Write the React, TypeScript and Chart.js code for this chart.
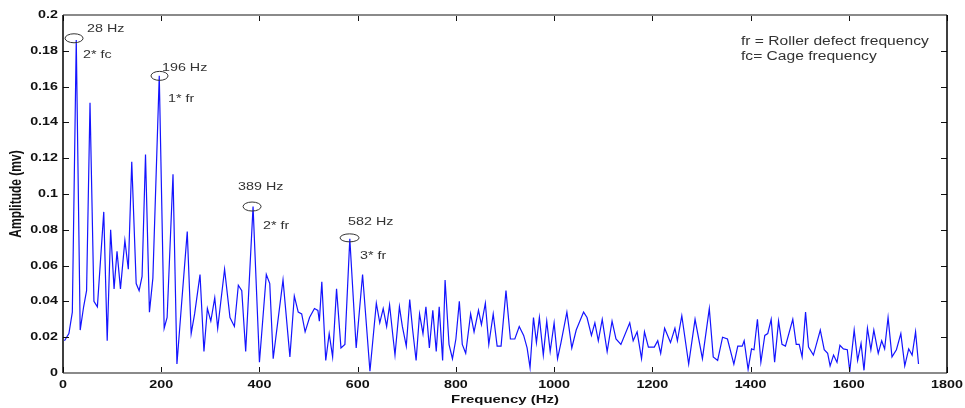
import React, { useEffect, useRef } from 'react';
import { Chart, registerables } from 'chart.js';

Chart.register(...registerables);

// ---- data ----
const FREQ_HZ = [
  3, 12, 19, 27, 35, 42, 48, 55, 63, 70,
  83, 90, 97, 104, 110, 117, 126, 133, 140, 149,
  155, 161, 168, 176, 183, 196, 206, 212, 224, 232,
  241, 253, 261, 268, 279, 287, 294, 301, 309, 315,
  329, 340, 349, 357, 364, 372, 387, 400, 414, 421,
  428, 448, 462, 471, 479, 486, 493, 502, 512, 519,
  522, 527, 535, 542, 549, 557, 566, 574, 584, 597,
  610, 625, 638, 645, 652, 659, 665, 672, 676, 685,
  691, 699, 706, 712, 719, 726, 733, 739, 746, 753,
  760, 766, 773, 778, 786, 793, 800, 807, 813, 820,
  830, 837, 846, 852, 860, 867, 876, 884, 892, 902,
  911, 920, 929, 938, 945, 951, 958, 964, 970, 978,
  985, 992, 1000, 1007, 1014, 1026, 1036, 1045, 1060, 1067,
  1076, 1083, 1090, 1098, 1108, 1118, 1126, 1136, 1154, 1161,
  1169, 1178, 1184, 1192, 1204, 1211, 1217, 1225, 1237, 1246,
  1251, 1260, 1274, 1287, 1302, 1316, 1324, 1333, 1343, 1353,
  1366, 1374, 1383, 1387, 1395, 1402, 1407, 1414, 1421, 1429,
  1435, 1442, 1449, 1457, 1464, 1471, 1486, 1493, 1499, 1505,
  1512, 1518, 1528, 1542, 1550, 1557, 1562, 1569, 1576, 1582,
  1589, 1597, 1602, 1611, 1618, 1625, 1631, 1638, 1645, 1651,
  1660, 1667, 1673, 1680, 1688, 1697, 1706, 1714, 1722, 1729,
  1736, 1742,
];

const AMPLITUDE = [
  0.018, 0.022, 0.034, 0.186, 0.024, 0.037, 0.046, 0.151, 0.040, 0.037,
  0.090, 0.018, 0.080, 0.047, 0.068, 0.047, 0.074, 0.058, 0.118, 0.050,
  0.046, 0.054, 0.122, 0.034, 0.053, 0.166, 0.025, 0.031, 0.111, 0.005,
  0.037, 0.079, 0.022, 0.033, 0.055, 0.012, 0.036, 0.029, 0.042, 0.025,
  0.058, 0.031, 0.026, 0.049, 0.046, 0.012, 0.093, 0.006, 0.055, 0.050,
  0.008, 0.052, 0.009, 0.043, 0.034, 0.033, 0.023, 0.031, 0.036, 0.035,
  0.029, 0.051, 0.007, 0.022, 0.009, 0.047, 0.014, 0.016, 0.075, 0.014,
  0.055, 0.001, 0.039, 0.028, 0.036, 0.026, 0.038, 0.020, 0.010, 0.037,
  0.026, 0.015, 0.041, 0.024, 0.007, 0.033, 0.022, 0.037, 0.014, 0.035,
  0.012, 0.037, 0.007, 0.052, 0.016, 0.008, 0.019, 0.040, 0.016, 0.011,
  0.033, 0.023, 0.035, 0.027, 0.039, 0.016, 0.033, 0.015, 0.015, 0.046,
  0.019, 0.019, 0.026, 0.021, 0.014, 0.003, 0.031, 0.017, 0.031, 0.010,
  0.029, 0.012, 0.028, 0.008, 0.017, 0.034, 0.014, 0.024, 0.034, 0.031,
  0.021, 0.028, 0.018, 0.030, 0.012, 0.029, 0.019, 0.016, 0.028, 0.018,
  0.023, 0.008, 0.023, 0.0145, 0.0145, 0.018, 0.011, 0.025, 0.017, 0.025,
  0.018, 0.032, 0.005, 0.030, 0.008, 0.036, 0.009, 0.007, 0.020, 0.019,
  0.005, 0.015, 0.015, 0.018, 0.002, 0.0135, 0.013, 0.030, 0.006, 0.021,
  0.022, 0.030, 0.006, 0.029, 0.016, 0.015, 0.030, 0.016, 0.016, 0.009,
  0.034, 0.0145, 0.010, 0.024, 0.013, 0.011, 0.004, 0.010, 0.006, 0.0155,
  0.0135, 0.013, 0.001, 0.024, 0.007, 0.0165, 0.0015, 0.025, 0.013, 0.024,
  0.011, 0.018, 0.0135, 0.031, 0.009, 0.013, 0.022, 0.004, 0.0135, 0.010,
  0.023, 0.005,
];

const X_TICKS = [0, 200, 400, 600, 800, 1000, 1200, 1400, 1600, 1800];
const X_TICK_LABELS = ['0', '200', '400', '600', '800', '1000', '1200', '1400', '1600', '1800'];
const Y_TICKS = [0, 0.02, 0.04, 0.06, 0.08, 0.1, 0.12, 0.14, 0.16, 0.18, 0.2];
const Y_TICK_LABELS = ['0', '0.02', '0.04', '0.06', '0.08', '0.1', '0.12', '0.14', '0.16', '0.18', '0.2'];

const X_TITLE = 'Frequency (Hz)';
const Y_TITLE = 'Amplitude (mv)';
const LEGEND_LINES = ['fr = Roller defect frequency', 'fc= Cage frequency'];

// peak markers (ellipse centres in data units) and their texts
const MARKER_HZ = [22.5, 196.5, 385, 583.5];
const MARKER_AMP = [0.187, 0.166, 0.093, 0.0755];
const MARKER_LABELS = ['28 Hz', '196 Hz', '389 Hz', '582 Hz'];
const MARKER_NOTES = ['2* fc', '1* fr', '2* fr', '3* fr'];

// ---- styles ----
const FONT = "'Liberation Sans', Arial, Helvetica, sans-serif";
const SX = 1.3; // horizontal stretch of the reference's text
const LABEL_OFFSETS = [[13, -9.5], [2.5, -8], [-14, -19.5], [-1.5, -15.5]];
const NOTE_OFFSETS = [[9, 16.5], [8.5, 23], [11, 19.5], [10.5, 18]];
const ELLIPSE_R = [[9, 4.5], [8.5, 4.5], [9, 4.5], [9.5, 4]];

function drawText(
  ctx: CanvasRenderingContext2D,
  text: string,
  x: number,
  y: number,
  font: string,
  color: string,
  align: CanvasTextAlign,
  rotate = false,
) {
  ctx.save();
  ctx.font = font;
  ctx.fillStyle = color;
  ctx.textAlign = align;
  ctx.textBaseline = 'middle';
  ctx.translate(x, y);
  ctx.scale(SX, 1);
  if (rotate) ctx.rotate(-Math.PI / 2);
  ctx.fillText(text, 0, 0);
  ctx.restore();
}

const framePlugin = {
  id: 'matlabFrame',
  beforeDraw(chart: any) {
    const { ctx, width, height } = chart;
    ctx.save();
    ctx.fillStyle = '#ffffff';
    ctx.fillRect(0, 0, width, height);
    ctx.restore();
  },
  afterDraw(chart: any) {
    const { ctx, chartArea } = chart;
    const { left, right, top, bottom } = chartArea;
    const xs = chart.scales.x;
    const ys = chart.scales.y;
    const TL = 6;

    ctx.save();
    // inward tick marks
    ctx.strokeStyle = '#111';
    ctx.lineWidth = 1;
    ctx.beginPath();
    X_TICKS.forEach((v) => {
      const px = Math.round(xs.getPixelForValue(v)) + 0.5;
      ctx.moveTo(px, bottom);
      ctx.lineTo(px, bottom - TL);
      ctx.moveTo(px, top);
      ctx.lineTo(px, top + TL);
    });
    Y_TICKS.forEach((v) => {
      const py = Math.round(ys.getPixelForValue(v)) + 0.5;
      ctx.moveTo(left, py);
      ctx.lineTo(left + TL, py);
      ctx.moveTo(right, py);
      ctx.lineTo(right - TL, py);
    });
    ctx.stroke();

    // box: top / bottom grey, left / right black
    ctx.strokeStyle = '#8a8a8a';
    ctx.lineWidth = 2;
    ctx.beginPath();
    ctx.moveTo(left, top);
    ctx.lineTo(right, top);
    ctx.moveTo(left, bottom);
    ctx.lineTo(right, bottom);
    ctx.stroke();
    ctx.strokeStyle = '#000';
    ctx.lineWidth = 1.5;
    ctx.beginPath();
    ctx.moveTo(left, top);
    ctx.lineTo(left, bottom);
    ctx.moveTo(right, top);
    ctx.lineTo(right, bottom);
    ctx.stroke();
    ctx.restore();

    const tickFont = `bold 11px ${FONT}`;
    X_TICKS.forEach((v, i) => {
      drawText(ctx, X_TICK_LABELS[i], xs.getPixelForValue(v), bottom + 12, tickFont, '#111', 'center');
    });
    Y_TICKS.forEach((v, i) => {
      drawText(ctx, Y_TICK_LABELS[i], left - 5, ys.getPixelForValue(v), tickFont, '#111', 'right');
    });

    // axis titles
    drawText(ctx, X_TITLE, (left + right) / 2, bottom + 27, `bold 11.5px ${FONT}`, '#111', 'center');
    drawText(ctx, Y_TITLE, 17, (top + bottom) / 2, `bold 12px ${FONT}`, '#111', 'center', true);

    // peak markers
    const annFont = `11px ${FONT}`;
    MARKER_HZ.forEach((hz, i) => {
      const cx = xs.getPixelForValue(hz);
      const cy = ys.getPixelForValue(MARKER_AMP[i]);
      ctx.save();
      ctx.strokeStyle = '#333';
      ctx.lineWidth = 1;
      ctx.beginPath();
      ctx.ellipse(cx, cy, ELLIPSE_R[i][0], ELLIPSE_R[i][1], 0, 0, Math.PI * 2);
      ctx.stroke();
      ctx.restore();
      drawText(ctx, MARKER_LABELS[i], cx + LABEL_OFFSETS[i][0], cy + LABEL_OFFSETS[i][1], annFont, '#333', 'left');
      drawText(ctx, MARKER_NOTES[i], cx + NOTE_OFFSETS[i][0], cy + NOTE_OFFSETS[i][1], annFont, '#333', 'left');
    });

    // text legend, top right
    const legFont = `12px ${FONT}`;
    LEGEND_LINES.forEach((line, i) => {
      drawText(ctx, line, right - 206, top + 27 + i * 15, legFont, '#333', 'left');
    });
  },
};

export default function App() {
  const canvasRef = useRef<HTMLCanvasElement | null>(null);

  useEffect(() => {
    const canvas = canvasRef.current;
    if (!canvas) return;
    const points = FREQ_HZ.map((f, i) => ({ x: f, y: AMPLITUDE[i] }));
    const chart = new Chart(canvas, {
      type: 'line',
      data: {
        datasets: [
          {
            data: points,
            borderColor: '#1414ff',
            borderWidth: 1.2,
            pointRadius: 0,
            tension: 0,
            fill: false,
          },
        ],
      },
      options: {
        responsive: false,
        animation: false,
        devicePixelRatio: 1,
        events: [],
        layout: { padding: { left: 63, top: 15, right: 18, bottom: 35 } },
        plugins: { legend: { display: false }, tooltip: { enabled: false } },
        scales: {
          x: { type: 'linear', min: 0, max: 1800, display: false },
          y: { type: 'linear', min: 0, max: 0.2, display: false },
        },
      },
      plugins: [framePlugin],
    } as any);
    return () => chart.destroy();
  }, []);

  return (
    <div style={{ position: 'absolute', left: 0, top: 0, width: 965, height: 408, background: '#fff' }}>
      <canvas ref={canvasRef} width={965} height={408} style={{ display: 'block', width: 965, height: 408 }} />
    </div>
  );
}
